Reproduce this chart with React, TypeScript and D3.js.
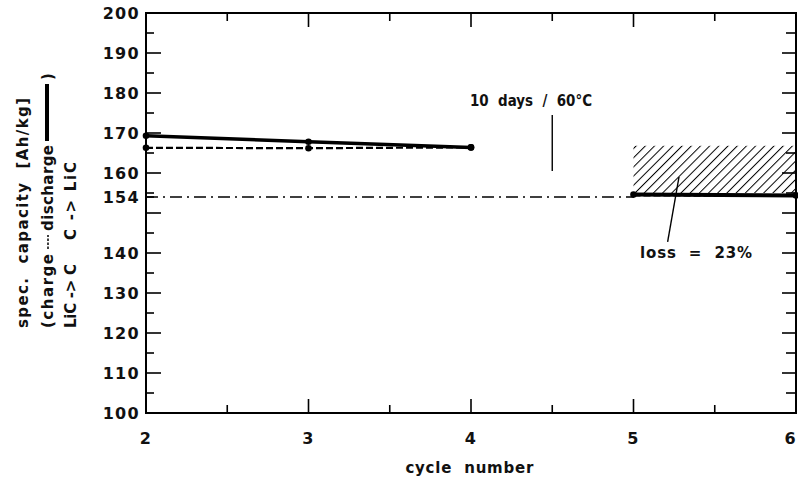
import React from "react";
import * as d3 from "d3";

// cycles before storage
const cyclesBefore = [2, 3, 4];
const dischargeBefore = [169.3, 167.8, 166.4];
const chargeBefore = [166.3, 166.2, 166.4];
// cycles after 10 days storage at 60°C
const cyclesAfter = [5, 6];
const dischargeAfter = [154.6, 154.4];
const chargeAfter = [154.4, 154.3];
const referenceLevel = 154;
const lossBand = [155, 166.8];
const xTicks = [2, 3, 4, 5, 6];
const yTickLabels = [100, 110, 120, 130, 140, 154, 160, 170, 180, 190, 200];

const W = 798;
const H = 481;
const m = { left: 146, right: 2, top: 13, bottom: 68 };
const font = "'DejaVu Sans', sans-serif";

export default function App() {
  const x = d3.scaleLinear().domain([2, 6]).range([m.left, W - m.right]);
  const y = d3.scaleLinear().domain([100, 200]).range([H - m.bottom, m.top]);
  const x0 = x(2), x1 = x(6), yb = y(100), yt = y(200);

  const line = d3
    .line<[number, number]>()
    .x((d) => x(d[0]))
    .y((d) => y(d[1]));

  const zip = (a: number[], b: number[]) => a.map((v, i) => [v, b[i]] as [number, number]);

  const xMinor = d3.range(2, 6.01, 0.5);
  const yMinor = d3.range(100, 200.1, 5);

  const txt = {
    fontFamily: font,
    fontSize: 16,
    fontWeight: 700,
    fill: "#111",
    letterSpacing: 1.3,
    whiteSpace: "pre",
  } as const;
  const lab = { ...txt, fontSize: 15, letterSpacing: 0 } as const;

  return (
    <svg width={W} height={H} style={{ position: "absolute", left: 0, top: 0, background: "#fff" }}>
      <defs>
        <pattern id="hatch" width="6.5" height="6.5" patternUnits="userSpaceOnUse" patternTransform="rotate(45)">
          <line x1="0" y1="0" x2="0" y2="6.5" stroke="#000" strokeWidth="2" />
        </pattern>
      </defs>

      {/* frame */}
      <rect x={x0} y={yt} width={x1 - x0} height={yb - yt} fill="none" stroke="#000" strokeWidth={2} />

      {/* x ticks bottom + top */}
      {xMinor.map((t) => {
        const major = Number.isInteger(t);
        const len = major ? 14 : 8;
        return (
          <g key={"xt" + t} stroke="#000" strokeWidth={1.6}>
            <line x1={x(t)} x2={x(t)} y1={yb} y2={yb - len} />
            <line x1={x(t)} x2={x(t)} y1={yt} y2={yt + len} />
          </g>
        );
      })}
      {/* y ticks left + right */}
      {yMinor.map((t) => {
        const major = t % 10 === 0;
        const len = major ? 15 : 8;
        return (
          <g key={"yt" + t} stroke="#000" strokeWidth={1.6}>
            <line x1={x0} x2={x0 + len} y1={y(t)} y2={y(t)} />
            <line x1={x1} x2={x1 - (major ? 14 : 10)} y1={y(t)} y2={y(t)} />
          </g>
        );
      })}
      <line x1={x0} x2={x0 + 8} y1={y(154)} y2={y(154)} stroke="#000" strokeWidth={1.6} />

      {/* tick labels */}
      {yTickLabels.map((t) => (
        <text key={"yl" + t} x={x0 - 6} y={y(t)} dy="0.36em" textAnchor="end" style={txt}>
          {t}
        </text>
      ))}
      {xTicks.map((t, i) => (
        <text
          key={"xl" + t}
          x={i === xTicks.length - 1 ? W - 1 : x(t)}
          y={yb + 31}
          textAnchor={i === xTicks.length - 1 ? "end" : "middle"}
          style={txt}
        >
          {t}
        </text>
      ))}
      <text x={x(3.99) - 64} y={yb + 60} textLength={128} lengthAdjust="spacing" style={lab}>
        {"cycle  number"}
      </text>

      {/* y axis label, three rotated lines */}
      <g transform="rotate(-90)">
        <text x={-328} y={28} textLength={230} lengthAdjust="spacing" style={lab}>{"spec.  capacity  [Ah/kg]"}</text>
        <text x={-328} y={53} textLength={74} lengthAdjust="spacing" style={lab}>{"(charge"}</text>
        <line x1={-249} x2={-235} y1={48} y2={48} stroke="#000" strokeWidth={1.5} strokeDasharray="2.5,1.5" />
        <text x={-231} y={53} textLength={86} lengthAdjust="spacing" style={lab}>{"discharge"}</text>
        <line x1={-141} x2={-84} y1={47} y2={47} stroke="#000" strokeWidth={4} />
        <text x={-80} y={53} style={lab}>{")"}</text>
        <text x={-328} y={76} textLength={64} lengthAdjust="spacing" style={lab}>{"LiC -> C"}</text>
        <text x={-240} y={76} textLength={78} lengthAdjust="spacing" style={lab}>{"C -> LiC"}</text>
      </g>

      {/* reference level */}
      <line
        x1={x0}
        x2={x(5)}
        y1={y(referenceLevel)}
        y2={y(referenceLevel)}
        stroke="#000"
        strokeWidth={1.3}
        strokeDasharray="12,5,2,5"
      />

      {/* loss band */}
      <rect
        x={x(5)}
        y={y(lossBand[1])}
        width={x(6) - x(5)}
        height={y(lossBand[0]) - y(lossBand[1])}
        fill="url(#hatch)"
      />

      {/* before storage */}
      <path d={line(zip(cyclesBefore, chargeBefore)) || ""} fill="none" stroke="#000" strokeWidth={2.2} strokeDasharray="7,3" />
      <path d={line(zip(cyclesBefore, dischargeBefore)) || ""} fill="none" stroke="#000" strokeWidth={3.5} />
      {/* after storage */}
      <path d={line(zip(cyclesAfter, chargeAfter)) || ""} fill="none" stroke="#000" strokeWidth={2.2} strokeDasharray="7,3" />
      <path d={line(zip(cyclesAfter, dischargeAfter)) || ""} fill="none" stroke="#000" strokeWidth={4} />

      {[...zip(cyclesBefore, dischargeBefore), ...zip(cyclesBefore, chargeBefore), ...zip(cyclesAfter, dischargeAfter)].map(
        (d, i) => (
          <circle key={"p" + i} cx={x(d[0])} cy={y(d[1])} r={3.3} fill="#000" />
        )
      )}

      {/* annotations */}
      <text x={x(4) - 1} y={y(178)} dy="0.36em" textLength={122} lengthAdjust="spacingAndGlyphs" style={lab}>
        {"10  days  /  60°C"}
      </text>
      <line x1={x(4.5)} x2={x(4.5)} y1={y(174.5)} y2={y(160.5)} stroke="#000" strokeWidth={1.4} />

      <line x1={x(5.28)} x2={x(5.21)} y1={y(159)} y2={y(142.8)} stroke="#000" strokeWidth={1.4} />
      <text x={x(5.04)} y={y(140)} dy="0.36em" textLength={112} lengthAdjust="spacing" style={lab}>
        {"loss  =  23%"}
      </text>
    </svg>
  );
}
